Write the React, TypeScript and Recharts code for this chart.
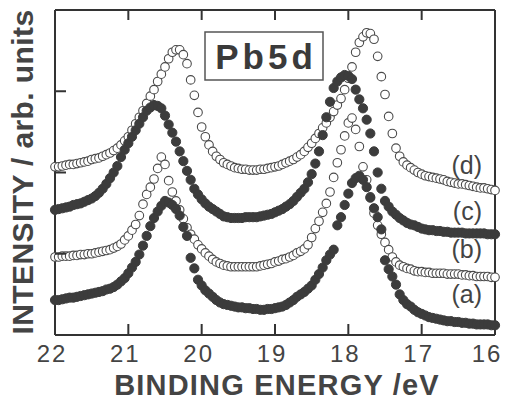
import { ComposedChart, Line, XAxis, YAxis } from "recharts";

// binding energy (eV)
const energy = [
  22.0, 21.95, 21.9, 21.85, 21.8, 21.75, 21.7, 21.65, 21.6, 21.55,
  21.5, 21.45, 21.4, 21.35, 21.3, 21.25, 21.2, 21.15, 21.1, 21.05,
  21.0, 20.95, 20.9, 20.85, 20.8, 20.75, 20.7, 20.65, 20.6, 20.55,
  20.5, 20.45, 20.4, 20.35, 20.3, 20.25, 20.2, 20.15, 20.1, 20.05,
  20.0, 19.95, 19.9, 19.85, 19.8, 19.75, 19.7, 19.65, 19.6, 19.55,
  19.5, 19.45, 19.4, 19.35, 19.3, 19.25, 19.2, 19.15, 19.1, 19.05,
  19.0, 18.95, 18.9, 18.85, 18.8, 18.75, 18.7, 18.65, 18.6, 18.55,
  18.5, 18.45, 18.4, 18.35, 18.3, 18.25, 18.2, 18.15, 18.1, 18.05,
  18.0, 17.95, 17.9, 17.85, 17.8, 17.75, 17.7, 17.65, 17.6, 17.55,
  17.5, 17.45, 17.4, 17.35, 17.3, 17.25, 17.2, 17.15, 17.1, 17.05,
  17.0, 16.95, 16.9, 16.85, 16.8, 16.75, 16.7, 16.65, 16.6, 16.55,
  16.5, 16.45, 16.4, 16.35, 16.3, 16.25, 16.2, 16.15, 16.1, 16.05,
  16.0,
];

// intensities (arb. units), spectra offset as in the figure
const specA = [
  0.43, 0.43, 0.44, 0.45, 0.46, 0.46, 0.47, 0.48, 0.49, 0.5,
  0.51, 0.52, 0.53, 0.54, 0.56, 0.57, 0.59, 0.62, 0.66, 0.7,
  0.76, 0.83, 0.9, 0.99, 1.1, 1.22, 1.34, 1.44, 1.52, 1.59,
  1.65, 1.63, 1.6, 1.55, 1.47, 1.33, 1.22, 0.95, 0.82, 0.68,
  0.61, 0.55, 0.51, 0.47, 0.43, 0.4, 0.38, 0.37, 0.36, 0.35,
  0.34, 0.34, 0.33, 0.33, 0.32, 0.32, 0.31, 0.31, 0.32, 0.32,
  0.33, 0.34, 0.35, 0.37, 0.4, 0.43, 0.47, 0.5, 0.53, 0.57,
  0.61, 0.68, 0.75, 0.83, 0.92, 0.99, 1.05, 1.35, 1.45, 1.6,
  1.74, 1.87, 1.93, 1.96, 1.91, 1.82, 1.69, 1.56, 1.45, 1.3,
  0.92, 0.81, 0.72, 0.62, 0.5, 0.43, 0.38, 0.35, 0.31, 0.28,
  0.26, 0.24, 0.22, 0.21, 0.2, 0.19, 0.18, 0.17, 0.17, 0.16,
  0.16, 0.15, 0.15, 0.14, 0.14, 0.13, 0.13, 0.13, 0.13, 0.12,
  0.12,
];
const specB = [
  0.96, 0.96, 0.97, 0.97, 0.97, 0.98, 0.98, 0.99, 0.99, 1.0,
  1.0, 1.01, 1.02, 1.03, 1.04, 1.05, 1.07, 1.09, 1.12, 1.17,
  1.22, 1.29, 1.36, 1.47, 1.61, 1.73, 1.82, 1.92, 2.05, 2.19,
  2.1, 1.9, 1.76, 1.65, 1.54, 1.43, 1.32, 1.24, 1.18, 1.11,
  1.06, 1.01, 0.97, 0.93, 0.9, 0.88, 0.86, 0.85, 0.84, 0.84,
  0.84, 0.84, 0.84, 0.84, 0.84, 0.84, 0.85, 0.86, 0.87, 0.88,
  0.9, 0.91, 0.93, 0.94, 0.96, 0.98, 1.01, 1.03, 1.06, 1.11,
  1.2, 1.31, 1.4, 1.51, 1.62, 1.76, 1.94, 2.12, 2.28, 2.45,
  2.61, 2.67, 2.53, 2.32, 2.07, 1.91, 1.7, 1.5, 1.35, 1.24,
  1.14, 1.05, 0.96, 0.9, 0.86, 0.84, 0.82, 0.81, 0.79, 0.78,
  0.78, 0.77, 0.77, 0.76, 0.76, 0.76, 0.76, 0.75, 0.75, 0.75,
  0.75, 0.74, 0.74, 0.73, 0.73, 0.72, 0.72, 0.72, 0.72, 0.71,
  0.71,
];
const specC = [
  1.54, 1.55, 1.56, 1.57, 1.58, 1.6, 1.61, 1.62, 1.64, 1.66,
  1.68, 1.71, 1.75, 1.8, 1.86, 1.93, 2.0, 2.08, 2.19, 2.28,
  2.36, 2.44, 2.52, 2.6, 2.68, 2.76, 2.8, 2.83, 2.82, 2.79,
  2.7, 2.59, 2.49, 2.38, 2.26, 2.14, 2.02, 1.91, 1.8, 1.73,
  1.67, 1.62, 1.58, 1.55, 1.52, 1.49, 1.46, 1.45, 1.44, 1.44,
  1.44, 1.44, 1.45, 1.45, 1.45, 1.45, 1.46, 1.47, 1.48, 1.49,
  1.51, 1.53, 1.55, 1.58, 1.61, 1.65, 1.7, 1.75, 1.8, 1.88,
  1.98, 2.11, 2.26, 2.46, 2.68, 2.87, 3.04, 3.12, 3.17, 3.2,
  3.19, 3.15, 3.02, 2.9, 2.79, 2.65, 2.48, 2.26, 2.0, 1.8,
  1.65, 1.58, 1.52, 1.48, 1.44, 1.41, 1.38, 1.36, 1.35, 1.33,
  1.31, 1.3, 1.29, 1.29, 1.28, 1.28, 1.27, 1.27, 1.26, 1.26,
  1.26, 1.26, 1.25, 1.25, 1.25, 1.25, 1.25, 1.25, 1.24, 1.24,
  1.24,
];
const specD = [
  2.07, 2.07, 2.08, 2.09, 2.1, 2.1, 2.11, 2.12, 2.13, 2.14,
  2.16, 2.17, 2.18, 2.2, 2.22, 2.24, 2.27, 2.3, 2.34, 2.39,
  2.44, 2.52, 2.6, 2.68, 2.76, 2.85, 2.94, 3.02, 3.12, 3.21,
  3.3, 3.4, 3.48, 3.51, 3.51, 3.45, 3.34, 3.14, 2.95, 2.74,
  2.56, 2.44, 2.34, 2.26, 2.2, 2.16, 2.12, 2.1, 2.08, 2.06,
  2.05, 2.04, 2.04, 2.03, 2.03, 2.03, 2.04, 2.04, 2.05, 2.06,
  2.07, 2.08, 2.1, 2.12, 2.14, 2.16, 2.19, 2.22, 2.26, 2.31,
  2.36, 2.42, 2.48, 2.55, 2.61, 2.68, 2.75, 2.83, 2.91, 3.02,
  3.16, 3.3, 3.48, 3.6, 3.67, 3.72, 3.71, 3.64, 3.43, 3.18,
  2.96, 2.69, 2.48, 2.3, 2.2, 2.13, 2.09, 2.06, 2.03, 2.0,
  1.98, 1.96, 1.95, 1.94, 1.93, 1.92, 1.91, 1.89, 1.88, 1.87,
  1.86, 1.86, 1.85, 1.84, 1.83, 1.82, 1.81, 1.81, 1.8, 1.79,
  1.78,
];

const xTicks = [22, 21, 20, 19, 18, 17, 16];
const yTicks = [0, 1, 2, 3, 4];
const curveNames = ["(a)", "(b)", "(c)", "(d)"];

const rows = energy.map((e, i) => ({ e, a: specA[i], b: specB[i], c: specC[i], d: specD[i] }));

const INK = "#333";
const TEXT = "#444";
const FONT = "'Liberation Sans', Arial, Helvetica, sans-serif";

const filledDot = { r: 4.6, fill: "#3c3c3c", stroke: "#3c3c3c", strokeWidth: 1 };
const openDot = { r: 4.3, fill: "#fff", stroke: "#4a4a4a", strokeWidth: 1.1 };

// axes are 1px thick, so ticks arrive 1px off the frame line on bottom/left
function BottomTick({ x, y, payload }: any) {
  const v = payload.value;
  const edge = v === 16 || v === 22;
  const base = y - 1;
  return (
    <g>
      {!edge && <line x1={x} x2={x} y1={base} y2={base - 10} stroke={INK} strokeWidth={2} />}
      <text x={x + (v === 16 ? -8 : -3)} y={base + 28} textAnchor="middle" fontSize={24} fill={TEXT} fontFamily={FONT} letterSpacing={2}>
        {v}
      </text>
    </g>
  );
}

function TopTick({ x, y, payload }: any) {
  const v = payload.value;
  if (v === 16 || v === 22) return <g />;
  return <line x1={x} x2={x} y1={y} y2={y + 10} stroke={INK} strokeWidth={2} />;
}

function LeftTick({ x, y, payload }: any) {
  const v = payload.value;
  if (v === 0 || v === 4) return <g />;
  return <line x1={x} x2={x + 11} y1={y} y2={y} stroke={INK} strokeWidth={2} />;
}

function RightTick({ x, y, payload }: any) {
  const v = payload.value;
  if (v === 0 || v === 4) return <g />;
  return <line x1={x} x2={x - 12} y1={y} y2={y} stroke={INK} strokeWidth={2} />;
}

export default function App() {
  const labelY = [303, 258, 220, 174];
  const axisLine = { stroke: INK, strokeWidth: 2 };
  return (
    <div style={{ position: "absolute", left: 0, top: 0, width: 508, height: 401, background: "#fff" }}>
      <ComposedChart width={508} height={401} data={rows} margin={{ top: 9, right: 12, bottom: 65, left: 54 }}>
        <XAxis
          dataKey="e"
          type="number"
          domain={[16, 22]}
          reversed
          ticks={xTicks}
          interval={0}
          height={1}
          tickSize={0}
          tickMargin={0}
          tickLine={false}
          axisLine={axisLine}
          tick={BottomTick}
        />
        <XAxis
          xAxisId="top"
          orientation="top"
          dataKey="e"
          type="number"
          domain={[16, 22]}
          reversed
          ticks={xTicks}
          interval={0}
          height={1}
          tickSize={0}
          tickMargin={0}
          tickLine={false}
          axisLine={axisLine}
          tick={TopTick}
        />
        <YAxis
          type="number"
          domain={[0, 4]}
          ticks={yTicks}
          interval={0}
          width={1}
          tickSize={0}
          tickMargin={0}
          tickLine={false}
          axisLine={axisLine}
          tick={LeftTick}
        />
        <YAxis
          yAxisId="right"
          orientation="right"
          type="number"
          domain={[0, 4]}
          ticks={yTicks}
          interval={0}
          width={1}
          tickSize={0}
          tickMargin={0}
          tickLine={false}
          axisLine={axisLine}
          tick={RightTick}
        />
        <Line dataKey="d" stroke="none" dot={openDot} activeDot={false} isAnimationActive={false} />
        <Line dataKey="c" stroke="none" dot={filledDot} activeDot={false} isAnimationActive={false} />
        <Line dataKey="b" stroke="none" dot={openDot} activeDot={false} isAnimationActive={false} />
        <Line dataKey="a" stroke="none" dot={filledDot} activeDot={false} isAnimationActive={false} />
      </ComposedChart>
      <svg width={508} height={401} style={{ position: "absolute", left: 0, top: 0, pointerEvents: "none" }}>
        <rect x={205} y={32} width={118} height={48} fill="#fff" stroke="#555" strokeWidth={1.5} />
        <text x={266} y={69} textAnchor="middle" fontSize={35} fontWeight="bold" fill="#3a3a3a" fontFamily={FONT} letterSpacing={4}>
          Pb5d
        </text>
        {curveNames.map((n, i) => (
          <text key={n} x={482} y={labelY[i]} textAnchor="end" fontSize={25} fill={TEXT} fontFamily={FONT}>
            {n}
          </text>
        ))}
        <text x={277} y={395} textAnchor="middle" fontSize={29} fontWeight="bold" fill={TEXT} fontFamily={FONT} letterSpacing={1.2}>
          BINDING ENERGY /eV
        </text>
        <text transform="translate(33,172) rotate(-90)" textAnchor="middle" fontSize={30} fontWeight="bold" fill={TEXT} fontFamily={FONT} letterSpacing={0.4}>
          INTENSITY / arb. units
        </text>
      </svg>
    </div>
  );
}
